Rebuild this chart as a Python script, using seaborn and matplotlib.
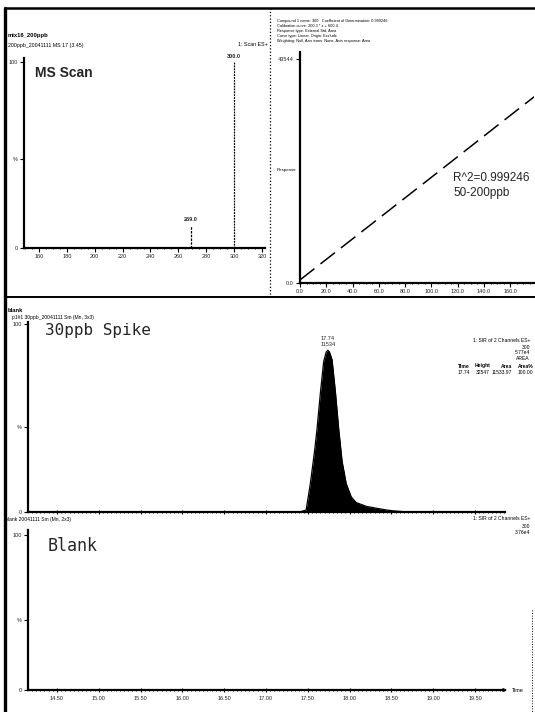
import matplotlib
matplotlib.use('Agg')
import matplotlib.pyplot as plt
import seaborn as sns
from matplotlib.lines import Line2D
from matplotlib.ticker import MultipleLocator, FixedLocator

sns.set_theme(style='white')
plt.rcParams['font.family'] = ['Liberation Sans', 'DejaVu Sans']

# ---------------- data ----------------
ms_mz = [269.0, 300.0]
ms_int = [12, 100]
ms_peak_labels = ['269.0', '300.0']
ms_xticks = [160, 180, 200, 220, 240, 260, 280, 300, 320]

cal_conc = [0, 50, 100, 150, 200]
cal_resp = [600, 10600, 20600, 30650, 40650]
cal_xticks = [0, 20, 40, 60, 80, 100, 120, 140, 160]
cal_xlabels = ['0.0', '20.0', '40.0', '60.0', '80.0', '100.0', '120.0', '140.0', '160.0']

spike_rt = [14.15, 17.40, 17.48, 17.53, 17.58, 17.61, 17.65, 17.69, 17.72, 17.74, 17.76,
            17.79, 17.83, 17.87, 17.91, 17.96, 18.02, 18.08, 18.20, 18.32, 18.45, 18.55,
            18.70, 19.86]
spike_int = [0, 0, 1, 15, 32, 44, 63, 80, 85, 86, 85, 81, 64, 44, 27, 15, 8, 5, 3, 2, 1,
             0.5, 0, 0]
blank_rt = [14.15, 19.86]
blank_int = [0, 0]
time_ticks = [14.5, 15.0, 15.5, 16.0, 16.5, 17.0, 17.5, 18.0, 18.5, 19.0, 19.5]
time_labels = ['14.50', '15.00', '15.50', '16.00', '16.50', '17.00', '17.50', '18.00',
               '18.50', '19.00', '19.50']

W, H = 535, 712
fig = plt.figure(figsize=(W / 100, H / 100), dpi=100)
fig.patch.set_facecolor('white')


def ax_at(x0, y0, x1, y1):
    a = fig.add_axes([x0 / W, 1 - y1 / H, (x1 - x0) / W, (y1 - y0) / H])
    a.set_facecolor('none')
    for s in ['top', 'right']:
        a.spines[s].set_visible(False)
    for s in ['left', 'bottom']:
        a.spines[s].set_color('black')
        a.spines[s].set_linewidth(1.6)
    a.tick_params(axis='both', which='major', length=3, width=0.8, color='black',
                  labelsize=4, pad=1.5, direction='out', left=True, bottom=True)
    a.tick_params(axis='x', which='minor', length=1.6, width=0.6, color='black',
                  direction='inout', bottom=True)
    a.grid(False)
    return a


def ftext(x, y, s, **kw):
    kw.setdefault('fontsize', 4)
    kw.setdefault('va', 'center')
    kw.setdefault('color', 'black')
    fig.text(x / W, 1 - y / H, s, **kw)


def fline(x0, y0, x1, y1, **kw):
    fig.add_artist(Line2D([x0 / W, x1 / W], [1 - y0 / H, 1 - y1 / H], color='black', **kw))

# ---------------- frame lines ----------------
fline(5, 8, 5, 712, lw=2.4)
fline(5, 8, 535, 8, lw=1.8)
fline(5, 297, 535, 297, lw=1.4)
fline(270, 8, 270, 297, lw=0.9, ls=':')
fline(532, 610, 532, 712, lw=0.7, ls=':')

# ---------------- MS scan ----------------
ax1 = ax_at(24, 58, 265, 248)
ax1.vlines(ms_mz, 0, ms_int, colors='black', linewidth=0.9,
           linestyles=[(0, (2, 1)), (0, (1.5, 0.8))])
for mz, it, lab in zip(ms_mz, ms_int, ms_peak_labels):
    ax1.annotate(lab, (mz, it), xytext=(0, 2.5), textcoords='offset points', ha='center',
                 va='bottom', fontsize=4, fontweight='bold', annotation_clip=False)
ax1.set_xlim(149.2, 322.2)
ax1.set_ylim(0, 102.2)
ax1.xaxis.set_major_locator(FixedLocator(ms_xticks))
ax1.set_xticklabels([str(t) for t in ms_xticks])
ax1.xaxis.set_minor_locator(MultipleLocator(5))
ax1.set_yticks([0, 48, 100])
ax1.set_yticklabels(['0', '%', '100'])
ax1.set_xlabel('')
ax1.set_ylabel('')
ax1.text(0.045, 0.92, 'MS Scan', transform=ax1.transAxes, fontsize=10, fontweight='bold',
         va='center', ha='left')
ftext(8, 35, 'mix16_200ppb', fontweight='bold', fontsize=4.2)
ftext(8, 45, '200ppb_20041111 MS 17 (3.45)', fontsize=3.8)
ftext(268, 45, '1: Scan ES+', fontsize=3.8, ha='right')

# ---------------- calibration ----------------
ax2 = ax_at(300, 52, 534, 283)
sns.lineplot(x=cal_conc, y=cal_resp, ax=ax2, color='black', linewidth=1.1,
             linestyle=(0, (12, 5)))
ax2.set_xlim(0, 178)
ax2.set_ylim(0, 45000)
ax2.xaxis.set_major_locator(FixedLocator(cal_xticks))
ax2.set_xticklabels(cal_xlabels)
ax2.xaxis.set_minor_locator(MultipleLocator(5))
ax2.set_yticks([0, 43544])
ax2.set_yticklabels(['0.0', '43544'])
ax2.set_xlabel('')
ax2.set_ylabel('')
ftext(296, 170, 'Response', fontsize=3.2, ha='right')
ax2.text(0.655, 0.455, 'R^2=0.999246', transform=ax2.transAxes, fontsize=8.5,
         va='center', ha='left')
ax2.text(0.655, 0.39, '50-200ppb', transform=ax2.transAxes, fontsize=8.5,
         va='center', ha='left')
hdr = ['Compound 1 name: 300   Coefficient of Determination: 0.999246',
       'Calibration curve: 200.3 * x + 600.4',
       'Response type: External Std, Area   ',
       'Curve type: Linear, Origin: Exclude',
       'Weighting: Null, Axis trans: None, Axis response: Area']
for i, line in enumerate(hdr):
    ftext(277, 21 + i * 5, line, fontsize=2.8)

# ---------------- 30ppb spike ----------------
ax3 = ax_at(28, 322, 505, 512)
sns.lineplot(x=spike_rt, y=spike_int, ax=ax3, color='black', linewidth=0.9)
ax3.fill_between(spike_rt, 0, spike_int, color='black', linewidth=0)
ax3.set_xlim(14.153, 19.859)
ax3.set_ylim(0, 101)
ax3.xaxis.set_major_locator(FixedLocator(time_ticks))
ax3.xaxis.set_minor_locator(MultipleLocator(0.05))
ax3.tick_params(axis='x', which='major', labelbottom=False, direction='inout')
ax3.set_yticks([0, 45, 100])
ax3.set_yticklabels(['0', '%', '100'])
ax3.set_xlabel('')
ax3.set_ylabel('')
apex_i = spike_int.index(max(spike_int))
ax3.annotate('17.74\n11534', (spike_rt[apex_i], spike_int[apex_i]), xytext=(0, 2),
             textcoords='offset points', ha='center', va='bottom', fontsize=4,
             linespacing=1.3)
ax3.text(0.035, 0.955, '30ppb Spike', transform=ax3.transAxes, fontsize=11.5,
         family=['DejaVu Sans Mono'], va='center', ha='left')
ftext(8, 310, 'blank', fontweight='bold', fontsize=4.2)
ftext(12, 318, 'p1#1 30ppb_20041111 Sm (Mn, 3x3)', fontsize=3.6)
ftext(530, 341, '1: SIR of 2 Channels ES+', fontsize=3.6, ha='right')
ftext(530, 347, '300', fontsize=3.6, ha='right')
ftext(530, 353, '5.77e4', fontsize=3.6, ha='right')
ftext(530, 359, 'AREA', fontsize=3.6, ha='right')
cols = [470, 490, 512, 533]
for xx, s in zip(cols, ['Time', 'Height', 'Area', 'Area%']):
    ftext(xx, 366, s, fontsize=3.6, ha='right', fontweight='bold')
for xx, s in zip(cols, ['17.74', '32547', '11533.97', '100.00']):
    ftext(xx, 372, s, fontsize=3.6, ha='right')

# ---------------- blank ----------------
ax4 = ax_at(28, 530, 505, 690)
sns.lineplot(x=blank_rt, y=blank_int, ax=ax4, color='black', linewidth=0.9)
ax4.set_xlim(14.153, 19.859)
ax4.set_ylim(0, 103.2)
ax4.xaxis.set_major_locator(FixedLocator(time_ticks))
ax4.set_xticklabels(time_labels)
ax4.xaxis.set_minor_locator(MultipleLocator(0.05))
ax4.tick_params(axis='x', which='major', direction='inout', pad=3)
ax4.set_yticks([0, 45, 100])
ax4.set_yticklabels(['0', '%', '100'])
ax4.set_xlabel('')
ax4.set_ylabel('')
ax4.text(0.042, 0.9, 'Blank', transform=ax4.transAxes, fontsize=12,
         family=['DejaVu Sans Mono'], va='center', ha='left')
ax4.annotate('', xy=(1.01, 0), xytext=(0.97, 0), xycoords='axes fraction',
             arrowprops=dict(arrowstyle='-|>', color='black', lw=0.8, mutation_scale=5))
ftext(512, 690, 'Time', fontsize=4)
ftext(5, 519, 'blank 20041111 Sm (Mn, 2x3)', fontsize=3.6)
ftext(530, 519, '1: SIR of 2 Channels ES+', fontsize=3.6, ha='right')
ftext(530, 526, '300', fontsize=3.6, ha='right')
ftext(530, 532, '3.76e4', fontsize=3.6, ha='right')

fig.savefig('out.png', dpi=100, facecolor='white')
